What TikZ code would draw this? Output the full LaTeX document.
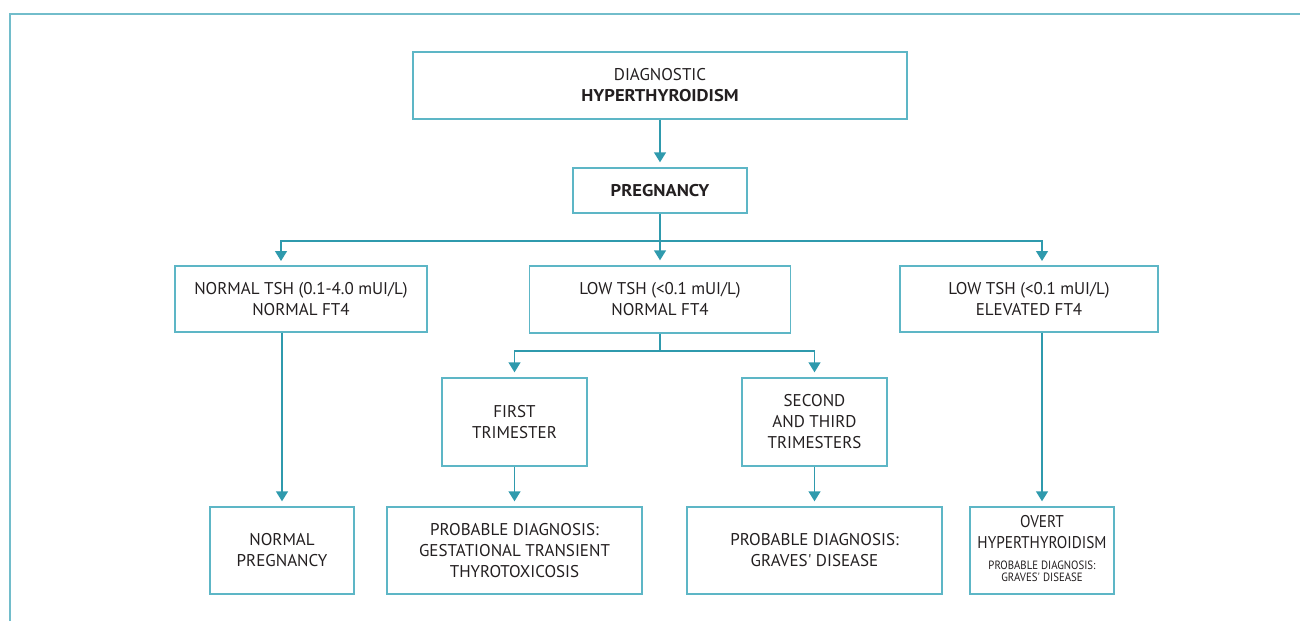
\documentclass[tikz,border=0pt]{standalone}
\usepackage{fontspec}
\setmainfont{PT Sans}
\usetikzlibrary{arrows.meta}
\definecolor{boxc}{HTML}{5DB6C6}
\definecolor{arrc}{HTML}{2F9AAD}
\definecolor{framec}{HTML}{72BDCB}
\definecolor{txt}{HTML}{231F20}
\newcommand{\wbf}[1]{{\bfseries\addfontfeature{FakeStretch=1.09}#1}}
\begin{document}
\begin{tikzpicture}[x=1pt,y=-1pt,
 box/.style={draw=boxc,line width=1.4pt,text=txt,align=center,inner sep=0pt,font=\fontsize{17}{21}\selectfont},
 arr/.style={draw=arrc,line width=1.4pt,-{Triangle[width=12pt,length=10pt]},shorten >=5pt},
 ln/.style={draw=arrc,line width=1.4pt}]
\useasboundingbox (0,0) rectangle (1300,621);
\draw[framec,line width=2.2pt] (10,621) -- (10,14) -- (1300,14);

\node[box,minimum width=494pt,minimum height=67pt] (top) at (660,85.5) {DIAGNOSTIC\\\wbf{HYPERTHYROIDISM}};
\node[box,minimum width=174pt,minimum height=45pt] (preg) at (660,190.5) {\wbf{PREGNANCY}};
\node[box,minimum width=252pt,minimum height=66pt] (left) at (301,299) {NORMAL TSH (0.1-4.0 mUI/L)\\NORMAL FT4};
\node[box,minimum width=261pt,minimum height=67pt] (mid) at (660,299.5) {LOW TSH (<0.1 mUI/L)\\NORMAL FT4};
\node[box,minimum width=258pt,minimum height=66pt] (right) at (1029,299) {LOW TSH (<0.1 mUI/L)\\ELEVATED FT4};
\node[box,minimum width=145pt,minimum height=88pt] (ft) at (514.5,422) {FIRST\\TRIMESTER};
\node[box,minimum width=145pt,minimum height=88pt] (st) at (814.5,422) {SECOND\\AND THIRD\\TRIMESTERS};
\node[box,minimum width=144pt,minimum height=87pt] (np) at (282,550.5) {NORMAL\\PREGNANCY};
\node[box,minimum width=255pt,minimum height=87pt] (gest) at (514.5,550.5) {PROBABLE DIAGNOSIS:\\GESTATIONAL TRANSIENT\\THYROTOXICOSIS};
\node[box,minimum width=255pt,minimum height=87pt] (graves) at (814.5,550.5) {PROBABLE DIAGNOSIS:\\GRAVES\textquotesingle{} DISEASE};
\node[box,minimum width=144pt,minimum height=87pt,font=\fontsize{17}{21}\selectfont\addfontfeature{FakeStretch=0.9}] (overt) at (1042,550.5)
 {\raisebox{-4pt}{\begin{tabular}{@{}c@{}}OVERT\\HYPERTHYROIDISM\\{\fontsize{12}{12}\selectfont PROBABLE DIAGNOSIS:}\\[-9pt]{\fontsize{12}{12}\selectfont GRAVES\textquotesingle{} DISEASE}\end{tabular}}};

\coordinate (j1) at (660,241);
\coordinate (lt) at (281,266);
\coordinate (rt) at (1042,266);
\coordinate (j2) at (660,351);

\draw[arr] (top) -- (preg);
\draw[arr] (preg) -- (mid);
\draw[arr] (j1) -| (lt);
\draw[arr] (j1) -| (rt);
\draw[arr] (left.south -| np.north) -- (np.north);
\draw[arr] (right.south -| overt.north) -- (overt.north);
\draw[ln] (mid.south) -- (j2);
\draw[arr] (j2) -| (ft.north);
\draw[arr] (j2) -| (st.north);
\draw[arr] (ft) -- (gest);
\draw[arr] (st) -- (graves);
\end{tikzpicture}
\end{document}
